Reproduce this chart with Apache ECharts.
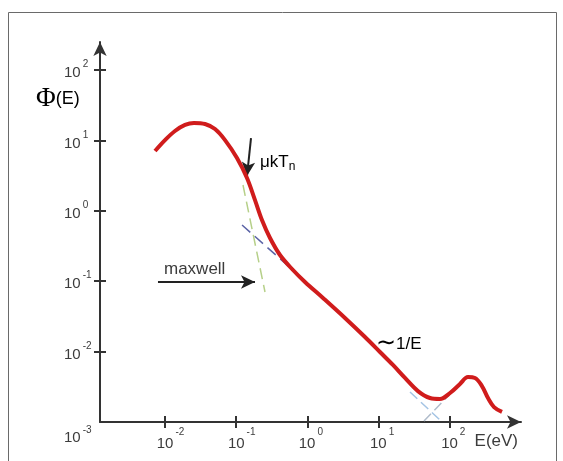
<!DOCTYPE html>
<html>
<head>
<meta charset="utf-8">
<style>
  html, body { margin: 0; padding: 0; background: #fff; }
  #chart { width: 563px; height: 461px; }
</style>
<script src="https://cdn.jsdelivr.net/npm/echarts@6.0.0/dist/echarts.min.js"></script>
</head>
<body>
<div id="chart"></div>
<script>
// Neutron flux spectrum (schematic), log-log axes

// Main curve: energy (eV) and flux Phi(E)
var energy = [0.00724, 0.0100, 0.0138, 0.0191, 0.0255, 0.0365, 0.0504, 0.0697, 0.1026, 0.1418,
              0.1837, 0.230, 0.2985, 0.412, 0.608, 0.925, 1.656, 3.37, 6.44, 10.46,
              15.9, 23.5, 35.7, 52.7, 72.8, 100.7, 139, 180, 226, 283,
              344, 418, 541];
var flux = [7.07, 10.1, 13.6, 16.6, 17.7, 17.1, 14.5, 10.1, 5.62, 2.92,
            1.42, 0.740, 0.411, 0.2356, 0.149, 0.0975, 0.0577, 0.030, 0.0161, 0.00987,
            0.00646, 0.00422, 0.00275, 0.00219, 0.00212, 0.00258, 0.00347, 0.00435, 0.00422, 0.00324,
            0.00219, 0.00163, 0.00139];

// Dashed guide lines
var maxwellE = [0.1246, 0.2538];
var maxwellPhi = [2.325, 0.0703];
var slowE = [0.1208, 0.67];
var slowPhi = [0.628, 0.135];
var dipAE = [27.6, 72.8];
var dipAPhi = [0.00267, 0.001067];
var dipBE = [43.4, 107.4];
var dipBPhi = [0.001033, 0.00267];

// Annotation arrows [E, Phi] start -> end
var kTArrow = [[0.1614, 10.8], [0.1418, 3.12]];
var maxwellArrow = [[0.00797, 0.0975], [0.1837, 0.0975]];

// Tick values
var xTicks = [0.01, 0.1, 1, 10, 100];
var yTicks = [0.01, 0.1, 1, 10, 100];
var yLabels = [0.001, 0.01, 0.1, 1, 10, 100];

var xMin = 0.001222, xMax = 1000;
var yMin = 0.001, yMax = 250;

var textColor = '#3c3c3c';
var axisColor = '#333';
var font = 'Liberation Sans, Arial, sans-serif';

function pairs(xs, ys) {
    return xs.map(function (x, i) { return [x, ys[i]]; });
}

function expOf(v) {
    return Math.round(Math.log10(v));
}

var chart = echarts.init(document.getElementById('chart'));

var baseRich = {
    b: { fontSize: 15, verticalAlign: 'bottom', color: textColor, fontFamily: font },
    s: { fontSize: 10, verticalAlign: 'top', color: textColor, fontFamily: font, padding: [0, 0, 0, 2] },
    s3: { fontSize: 10, verticalAlign: 'bottom', color: textColor, fontFamily: font, padding: [0, 0, 10, 2] },
    pn: { width: 11, lineHeight: 24, fontSize: 1 },
    pp: { width: 7, lineHeight: 24, fontSize: 1 },
    h: { width: 1, lineHeight: 21, fontSize: 1 },
    h3: { width: 1, lineHeight: 46, fontSize: 1 }
};

chart.setOption({
    animation: false,
    backgroundColor: '#fff',
    grid: { left: 100, right: 42, top: 42, bottom: 39 },
    xAxis: [{
        type: 'log',
        min: xMin,
        max: xMax,
        position: 'bottom',
        axisLine: {
            onZero: false,
            symbol: ['none', 'arrow'],
            symbolSize: [10, 14],
            lineStyle: { color: axisColor, width: 2 }
        },
        axisTick: { customValues: xTicks, length: 6, lineStyle: { color: axisColor, width: 2 } },
        axisLabel: {
            customValues: xTicks,
            margin: 5,
            rich: baseRich,
            formatter: function (v) {
                var e = expOf(v);
                var pad = e < 0 ? 'pn' : 'pp';
                return '{' + pad + '| }{b|10}{s|' + e + '}';
            }
        },
        splitLine: { show: false },
        name: 'E(eV)',
        nameLocation: 'end',
        nameGap: -3,
        nameTextStyle: {
            fontSize: 17, color: textColor, fontFamily: font,
            align: 'right', verticalAlign: 'top', padding: [11, 0, 0, 0]
        }
    }, {
        type: 'log',
        min: xMin,
        max: xMax,
        position: 'bottom',
        axisLine: { show: false, onZero: false },
        axisTick: { customValues: xTicks, inside: true, length: 6, lineStyle: { color: axisColor, width: 2 } },
        axisLabel: { show: false },
        splitLine: { show: false }
    }],
    yAxis: [{
        type: 'log',
        min: yMin,
        max: yMax,
        position: 'left',
        axisLine: {
            onZero: false,
            symbol: ['none', 'arrow'],
            symbolSize: [10, 14],
            lineStyle: { color: axisColor, width: 2 }
        },
        axisTick: { customValues: yTicks, length: 6, lineStyle: { color: axisColor, width: 2 } },
        axisLabel: {
            customValues: yLabels,
            margin: 37,
            align: 'left',
            rich: baseRich,
            formatter: function (v) {
                var e = expOf(v);
                if (e === -3) return '{h3| }{b|10}{s3|' + e + '}';
                return '{h| }{b|10}{s|' + e + '}';
            }
        },
        splitLine: { show: false }
    }, {
        type: 'log',
        min: yMin,
        max: yMax,
        position: 'left',
        axisLine: { show: false, onZero: false },
        axisTick: { customValues: yTicks, inside: true, length: 6, lineStyle: { color: axisColor, width: 2 } },
        axisLabel: { show: false },
        splitLine: { show: false }
    }],
    graphic: [
        {
            type: 'rect',
            shape: { x: 8.5, y: 12.5, width: 548, height: 470 },
            style: { fill: 'none', stroke: '#6a6a6a', lineWidth: 1 },
            silent: true
        },
        {
            type: 'text', x: 36, y: 99,
            style: {
                text: '{p|Φ}{e|(E)}',
                verticalAlign: 'middle',
                rich: {
                    p: { fontSize: 27, fontFamily: 'Liberation Serif, serif', color: '#333' },
                    e: { fontSize: 18, fontFamily: font, color: textColor }
                }
            }
        },
        {
            type: 'text', x: 260, y: 162,
            style: {
                text: '{m|μ}{k|kT}{n|n}',
                verticalAlign: 'middle',
                rich: {
                    m: { fontSize: 17, lineHeight: 22, fontFamily: font, color: textColor },
                    k: { fontSize: 17, lineHeight: 22, fontFamily: font, color: textColor },
                    n: { fontSize: 12, verticalAlign: 'bottom', fontFamily: font, color: textColor }
                }
            }
        },
        {
            type: 'text', x: 164, y: 269,
            style: { text: 'maxwell', fontSize: 17, fontFamily: font, fill: textColor, verticalAlign: 'middle' }
        },
        {
            type: 'text', x: 376, y: 344,
            style: {
                text: '{t|∼}{e|1/E}',
                verticalAlign: 'middle',
                rich: {
                    t: { fontSize: 24, fontFamily: 'DejaVu Sans', color: textColor },
                    e: { fontSize: 17, fontFamily: font, color: textColor }
                }
            }
        }
    ],
    series: [
        {
            name: 'maxwell',
            type: 'line',
            data: pairs(maxwellE, maxwellPhi),
            showSymbol: false,
            lineStyle: { color: '#b6d089', width: 1.5, type: [11, 6] },
            silent: true
        },
        {
            name: 'slowing down',
            type: 'line',
            data: pairs(slowE, slowPhi),
            showSymbol: false,
            lineStyle: { color: '#5b63a6', width: 1.5, type: [11, 6] },
            silent: true
        },
        {
            name: 'dip a',
            type: 'line',
            data: pairs(dipAE, dipAPhi),
            showSymbol: false,
            lineStyle: { color: '#a4c4e4', width: 1.5, type: [10, 5] },
            silent: true
        },
        {
            name: 'dip b',
            type: 'line',
            data: pairs(dipBE, dipBPhi),
            showSymbol: false,
            lineStyle: { color: '#b0bccb', width: 1.5, type: [10, 5] },
            silent: true
        },
        {
            name: 'arrows',
            type: 'line',
            data: [],
            silent: true,
            markLine: {
                silent: true,
                symbol: ['none', 'arrow'],
                symbolSize: [10, 14],
                label: { show: false },
                lineStyle: { color: '#222', width: 2, type: 'solid' },
                data: [
                    [{ coord: kTArrow[0] }, { coord: kTArrow[1] }],
                    [{ coord: maxwellArrow[0] }, { coord: maxwellArrow[1] }]
                ]
            }
        },
        {
            name: 'Phi(E)',
            type: 'line',
            data: pairs(energy, flux),
            smooth: 0.35,
            showSymbol: false,
            lineStyle: { color: '#d01c1c', width: 4 },
            z: 5
        }
    ]
});
</script>
</body>
</html>
